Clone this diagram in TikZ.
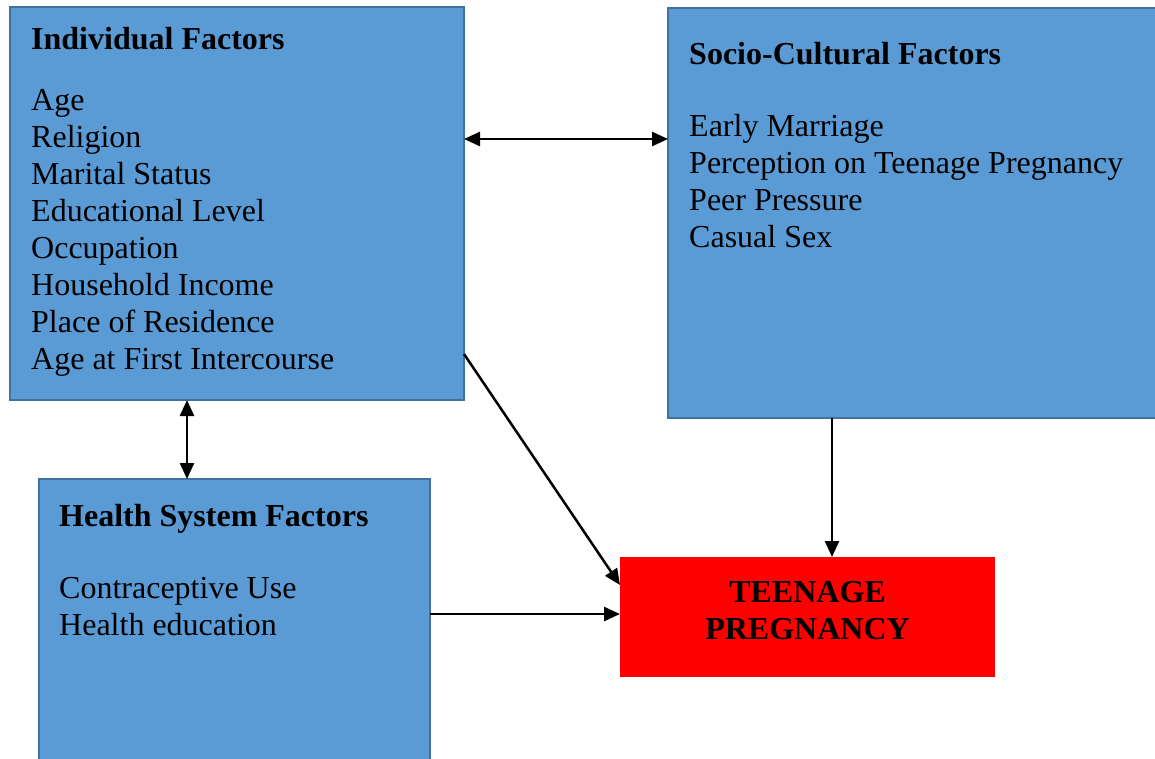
\documentclass[tikz,border=0pt]{standalone}
\usepackage{fontspec}
\setmainfont{Liberation Serif}
\usetikzlibrary{arrows.meta}
\definecolor{boxfill}{HTML}{5B9BD5}
\definecolor{boxline}{HTML}{41719C}
\begin{document}
\begin{tikzpicture}[x=1pt,y=-1pt,
  factor/.style={draw=boxline, fill=boxfill, line width=2.5pt, rectangle, inner sep=0pt, outer sep=0pt},
  outcome/.style={fill=red, rectangle, inner sep=0pt, outer sep=0pt},
  boxtext/.style={anchor=base west, inner sep=0pt, font=\fontsize{32}{37}\selectfont},
  headtext/.style={anchor=base, inner sep=0pt, font=\bfseries\fontsize{32}{37}\selectfont},
  tip/.tip={Triangle[length=16pt,width=14pt]},
  link/.style={line width=2.5pt, -tip},
  both/.style={line width=2.5pt, tip-tip}]
\useasboundingbox (0,0) rectangle (1155,758);

% factor boxes
\node[factor, minimum width=454pt, minimum height=393pt] (ind) at (237,203.5) {};
\node[factor, minimum width=494pt, minimum height=410pt] (soc) at (915,213) {};
\node[factor, minimum width=391pt, minimum height=287pt] (hea) at (234.5,622.5) {};
\node[outcome, minimum width=375pt, minimum height=120pt] (preg) at (807.5,617) {};

% box contents
\node[boxtext] (indtxt) at (31,49) {\begin{tabular}[t]{@{}l@{}}\textbf{Individual Factors}\\[24pt]
  Age\\ Religion\\ Marital Status\\ Educational Level\\ Occupation\\
  Household Income\\ Place of Residence\\ Age at First Intercourse\end{tabular}};
\node[boxtext] (soctxt) at (689,64) {\begin{tabular}[t]{@{}l@{}}\textbf{Socio-Cultural Factors}\\[35pt]
  Early Marriage\\ Perception on Teenage Pregnancy\\ Peer Pressure\\ Casual Sex\end{tabular}};
\node[boxtext] (heatxt) at (59,526) {\begin{tabular}[t]{@{}l@{}}\textbf{Health System Factors}\\[35pt]
  Contraceptive Use\\ Health education\end{tabular}};
\node[headtext] (pregtxt) at (807.5,602) {\begin{tabular}[t]{@{}c@{}}TEENAGE\\ PREGNANCY\end{tabular}};

% connectors
\draw[both] (ind.east |- 0,139) -- (soc.west |- 0,139);
\draw[both] (ind.south -| 187,0) -- (hea.north -| 187,0);
\draw[link] (ind.east |- 0,354) -- (preg.west |- 0,585);
\draw[link] (soc.south -| 832,0) -- (preg.north -| 832,0);
\draw[link] (hea.east |- 0,614) -- (preg.west |- 0,614);
\end{tikzpicture}
\end{document}
